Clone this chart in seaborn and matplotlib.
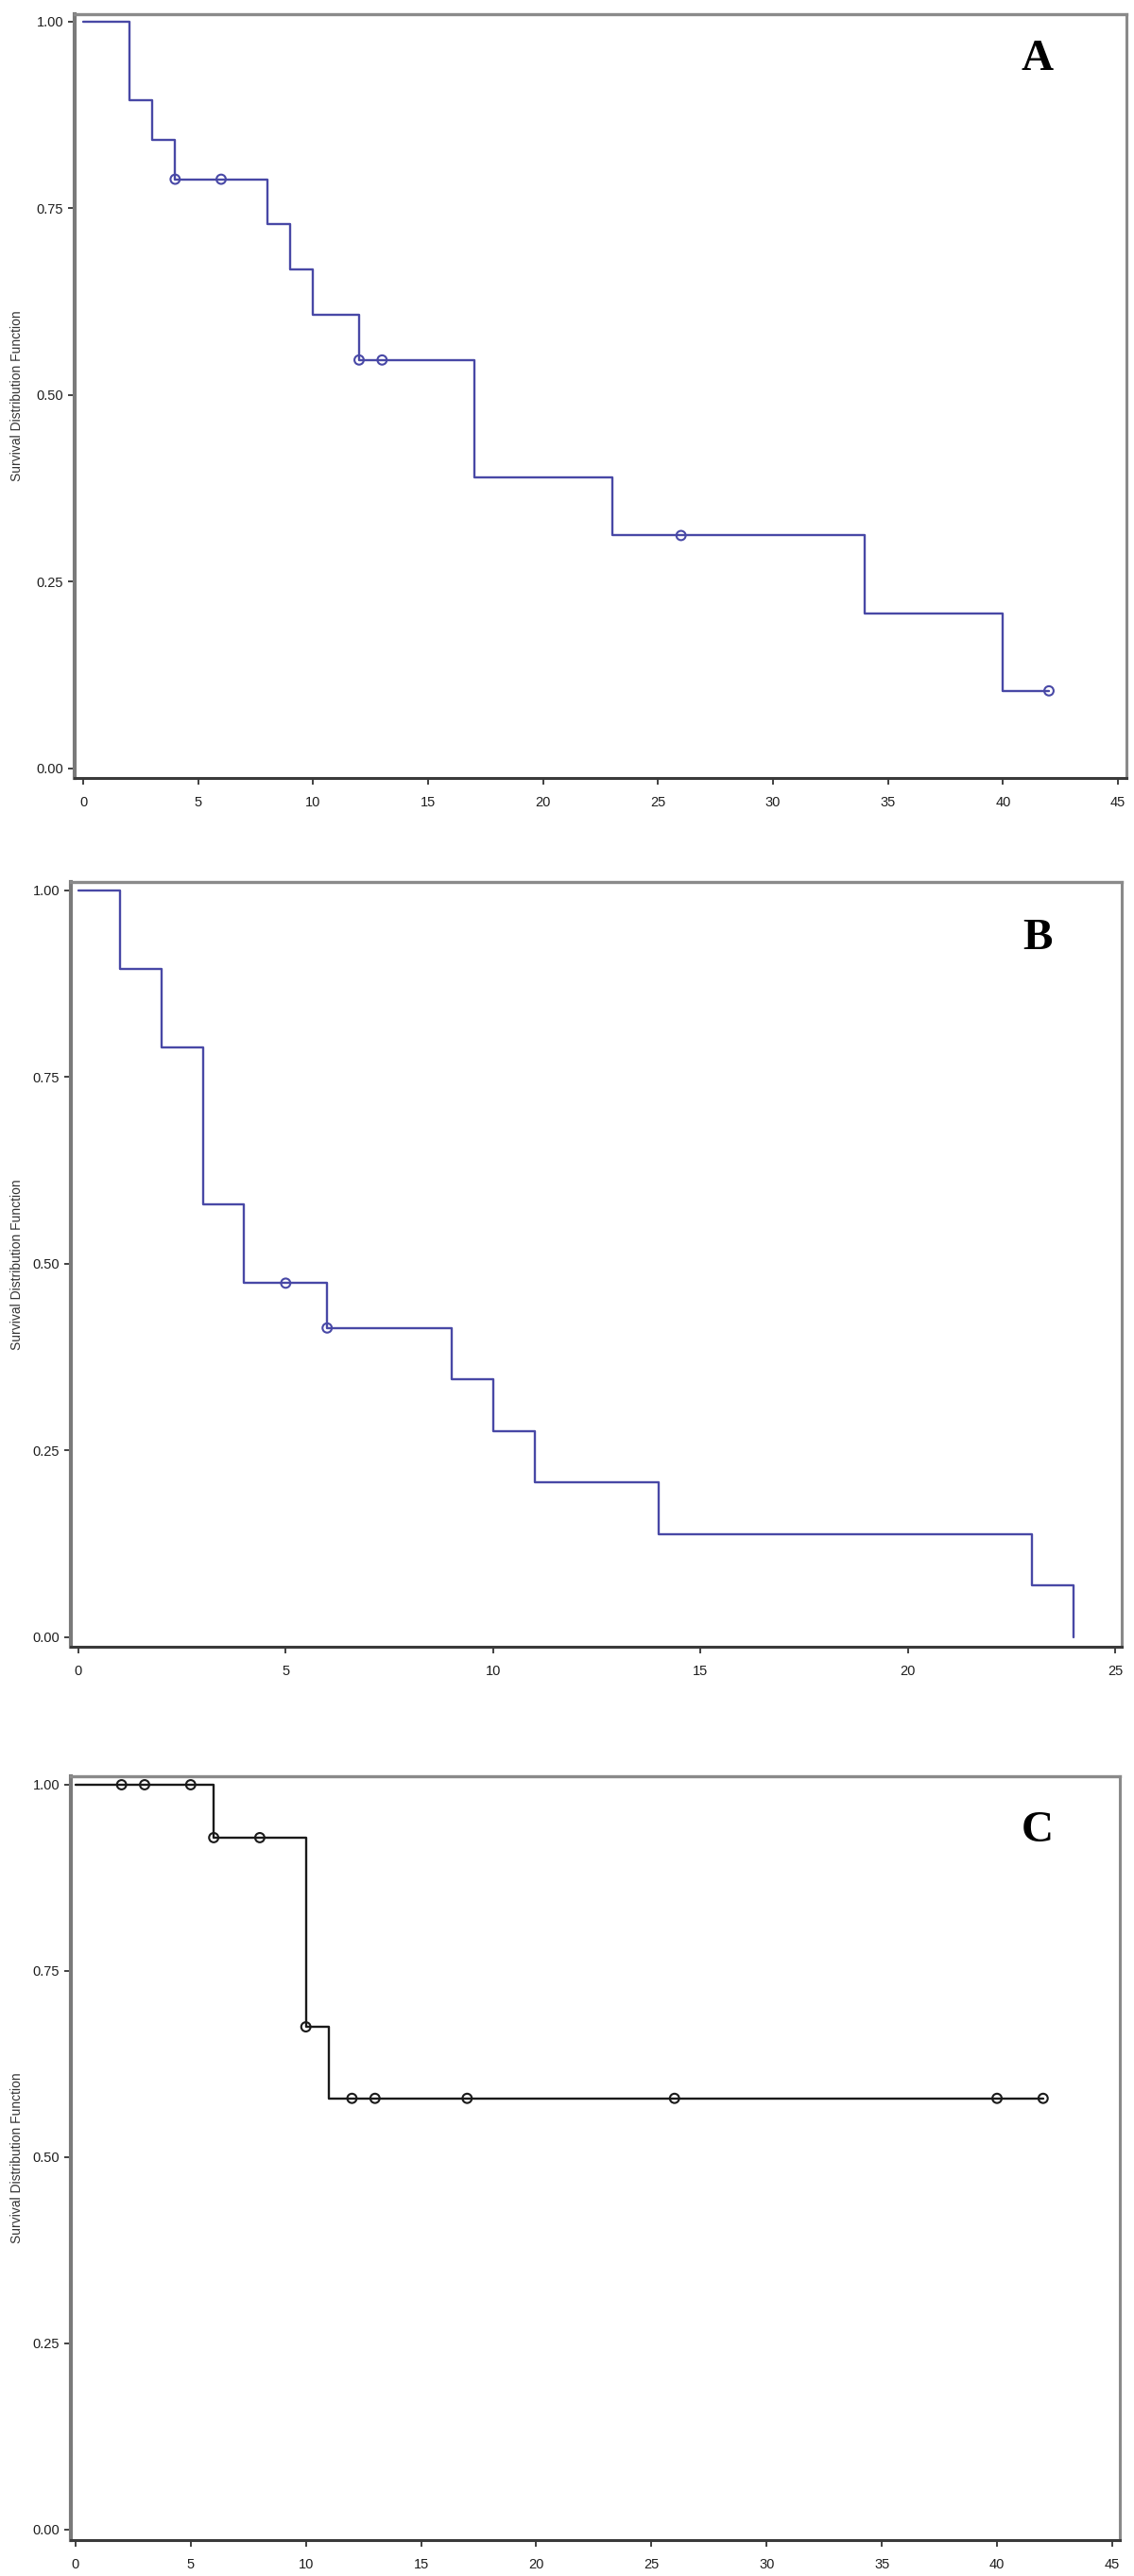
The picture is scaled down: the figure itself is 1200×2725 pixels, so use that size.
import numpy as np
import pandas as pd
import seaborn as sns
import matplotlib.pyplot as plt

# Kaplan-Meier estimates
a_time = [0, 2, 3, 4, 8, 9, 10, 12, 17, 23, 34, 40, 42]
a_surv = [1.0, 0.895, 0.842, 0.789, 0.729, 0.668, 0.607, 0.547, 0.390, 0.312, 0.208, 0.104, 0.104]
a_cens = [4, 6, 12, 13, 26, 42]

b_time = [0, 1, 2, 3, 4, 6, 9, 10, 11, 14, 23, 24]
b_surv = [1.0, 0.895, 0.789, 0.579, 0.474, 0.414, 0.345, 0.276, 0.207, 0.138, 0.069, 0.0]
b_cens = [5, 6]

c_time = [0, 6, 10, 11, 42]
c_surv = [1.0, 0.929, 0.675, 0.579, 0.579]
c_cens = [2, 3, 5, 6, 8, 10, 12, 13, 17, 26, 40, 42]

yticks = [0.0, 0.25, 0.5, 0.75, 1.0]
ytick_labels = ["0.00", "0.25", "0.50", "0.75", "1.00"]

W, H = 1200, 2725
BLUE = "#4848a6"
TICK_FONT = ["Liberation Sans", "DejaVu Sans"]

sns.set_style("white")


def censor_y(times, surv, cens):
    idx = np.searchsorted(times, cens, side="right") - 1
    return np.asarray(surv)[idx]


def km_panel(box, times, surv, cens, color, letter, xmax, xlim, ylim, letter_y):
    left, top, right, bottom = box
    ax = fig.add_axes([left / W, 1 - bottom / H, (right - left) / W, (bottom - top) / H])
    df = pd.DataFrame({"time": times, "surv": surv})
    sns.lineplot(data=df, x="time", y="surv", ax=ax, color=color, lw=1.7,
                 drawstyle="steps-post", estimator=None, sort=False)
    cdf = pd.DataFrame({"time": cens, "surv": censor_y(times, surv, cens)})
    sns.scatterplot(data=cdf, x="time", y="surv", ax=ax, marker="o", s=50,
                    facecolors="none", edgecolors=color, linewidth=1.5, zorder=3)
    ax.set_xlim(*xlim)
    ax.set_ylim(*ylim)
    ax.set_xticks(np.arange(0, xmax + 1, 5))
    ax.set_yticks(yticks)
    ax.set_yticklabels(ytick_labels)
    ax.set_xlabel("")
    ax.set_ylabel("Survival Distribution Function", fontsize=10, family=TICK_FONT, color="#333333")
    ax.yaxis.set_label_coords(-(left - 25) / (right - left), 0.5)
    ax.tick_params(axis="both", direction="out", length=5, width=1.3, color="#333333",
                   labelsize=10.5, labelcolor="#1e1e1e", bottom=True, left=True)
    ax.tick_params(axis="x", pad=9)
    for lab in ax.get_xticklabels() + ax.get_yticklabels():
        lab.set_family(TICK_FONT)
    for side, col, lw in [("left", "#7a7a7a", 3.0), ("top", "#8a8a8a", 2.4),
                          ("right", "#8a8a8a", 2.2), ("bottom", "#3a3a3a", 2.2)]:
        ax.spines[side].set_visible(True)
        ax.spines[side].set_color(col)
        ax.spines[side].set_linewidth(lw)
    ax.text((1098 - left) / (right - left), 1 - letter_y / (bottom - top), letter,
            transform=ax.transAxes, ha="center", va="center", fontsize=34,
            fontweight="bold", family=["Liberation Serif", "DejaVu Serif"], color="black")
    return ax


fig = plt.figure(figsize=(W / 100, H / 100), dpi=100)

km_panel((79, 15, 1192, 823), a_time, a_surv, a_cens, BLUE, "A", 45,
         (-0.37, 45.37), (-0.0127, 1.010), 48)
km_panel((75, 933, 1187, 1742), b_time, b_surv, b_cens, BLUE, "B", 25,
         (-0.18, 25.16), (-0.0127, 1.011), 60)
km_panel((75, 1879, 1185, 2687), c_time, c_surv, c_cens, "#1a1a1a", "C", 45,
         (-0.2, 45.33), (-0.014, 1.0114), 58)

fig.savefig("out.png", dpi=100, facecolor="white")
